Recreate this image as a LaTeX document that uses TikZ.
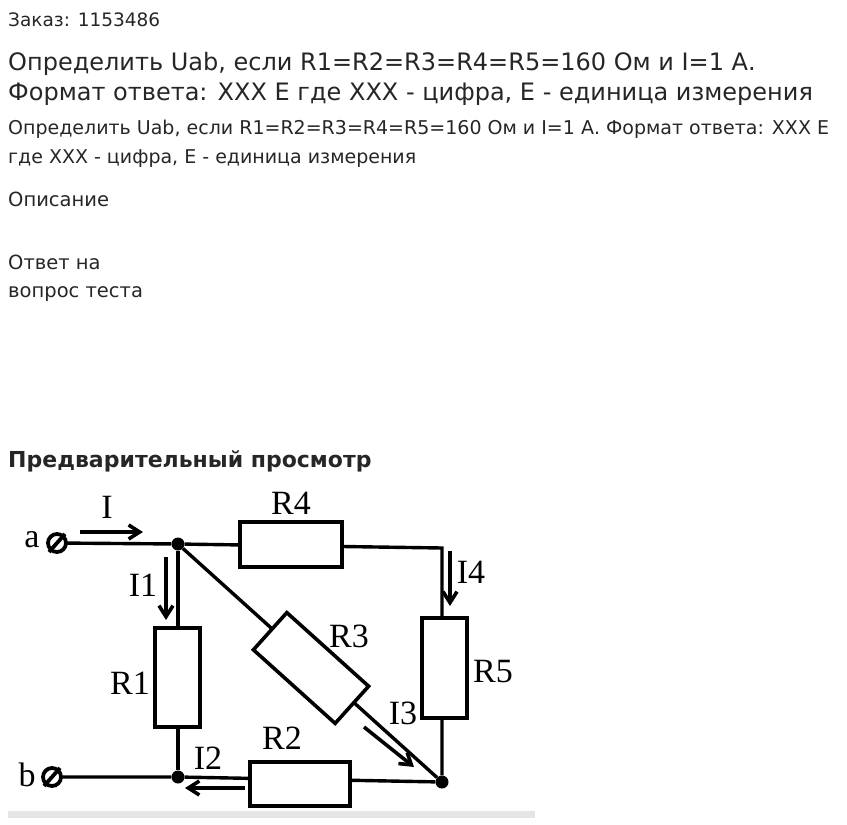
\documentclass[tikz,border=0pt]{standalone}
\usepackage{fontspec}
\setmainfont{DejaVu Sans}
\newfontfamily\ser{Liberation Serif}
\usetikzlibrary{arrows.meta,calc}
\begin{document}
\begin{tikzpicture}[x=1pt,y=-1pt,
 txt/.style={anchor=base west,inner sep=0,text=black!85},
 res/.style={draw,line width=3.6pt,fill=white,minimum width=#1},
 lbl/.style={font=\ser\fontsize{34}{34}\selectfont,inner sep=0},
 wire/.style={line width=3.4pt},
 cur/.style={line width=3.6pt,-{Straight Barb[length=11pt,width=14pt]}},
 dot/.style={circle,fill,inner sep=0,minimum size=13pt}]
\useasboundingbox (0,0) rectangle (847,825);
\node[txt,font=\fontsize{18.5}{18.5}\selectfont] (t0) at (8,26) {Заказ: 1153486};
\node[txt,font=\fontsize{24}{24}\selectfont] (t1) at (8,70) {Определить Uab, если R1=R2=R3=R4=R5=160 Ом и I=1 А.};
\node[txt,font=\fontsize{24}{24}\selectfont] (t2) at (8,100) {Формат ответа: ХХХ Е где ХХХ - цифра, Е - единица измерения};
\node[txt,font=\fontsize{19}{19}\selectfont] (t3) at (8,134) {Определить Uab, если R1=R2=R3=R4=R5=160 Ом и I=1 А. Формат ответа: ХХХ Е};
\node[txt,font=\fontsize{19}{19}\selectfont] (t4) at (8,163) {где ХХХ - цифра, Е - единица измерения};
\node[txt,font=\fontsize{19.5}{19.5}\selectfont] (t5) at (8,206) {Описание};
\node[txt,font=\fontsize{19.5}{19.5}\selectfont] (t6) at (8,269) {Ответ на};
\node[txt,font=\fontsize{19.5}{19.5}\selectfont] (t7) at (8,297) {вопрос теста};
\node[txt,font=\bfseries\fontsize{22}{22}\selectfont] (t8) at (8,467) {Предварительный просмотр};
\fill[black!10] (8,811) rectangle (535,818);
% nodes
\coordinate (a) at (57,543);
\coordinate (b) at (52,777);
\node[dot] (A) at (178,544) {};
\coordinate (C) at (442,548);
\node[dot] (D) at (442,782) {};
\node[dot] (B) at (178,777) {};
\draw[wire] (a) -- (A) -- (C) -- (D) -- (B) -- (b);
\draw[wire] (A) -- (B);
\draw[wire] (A) -- (D);
\node[res=102pt,minimum height=45pt] (R4) at (291,544.5) {};
\node[res=45pt,minimum height=100pt] (R5) at (444.5,668) {};
\node[res=100pt,minimum height=44pt] (R2) at (300,784) {};
\node[res=45pt,minimum height=99pt] (R1) at (177.5,677.5) {};
\node[res=110pt,minimum height=50pt,rotate=-42] (R3) at (311,668) {};
\foreach \p in {a,b}{
 \draw[line width=3.8pt,fill=white] (\p) circle (9pt);
 \draw[line width=3.8pt] ($(\p)+(-8,9)$) -- ($(\p)+(8,-9)$);}
\node[lbl] (la) at (32,540) {a};
\node[lbl] (lb) at (27,775) {b};
\node[lbl] (lR4) at (291,503) {R4};
\node[lbl] (lR3) at (349,636) {R3};
\node[lbl] (lR1) at (130,683) {R1};
\node[lbl] (lR5) at (493,672) {R5};
\node[lbl] (lR2) at (282,738) {R2};
\node[lbl] (lI) at (107,507) {I};
\node[lbl] (lI1) at (143,585) {I1};
\node[lbl] (lI4) at (471,572) {I4};
\node[lbl] (lI3) at (403,713) {I3};
\node[lbl] (lI2) at (208,758) {I2};
\coordinate (i0) at (80,532); \coordinate (i1) at (143,532);
\coordinate (i10) at (166,557); \coordinate (i11) at (166,620);
\coordinate (i40) at (450,551); \coordinate (i41) at (450,606);
\coordinate (i30) at (364,727); \coordinate (i31) at (414,767);
\coordinate (i20) at (245,788); \coordinate (i21) at (185,788);
\draw[cur] (i0) -- (i1);
\draw[cur] (i10) -- (i11);
\draw[cur] (i40) -- (i41);
\draw[cur] (i30) -- (i31);
\draw[cur] (i20) -- (i21);
\end{tikzpicture}
\end{document}
